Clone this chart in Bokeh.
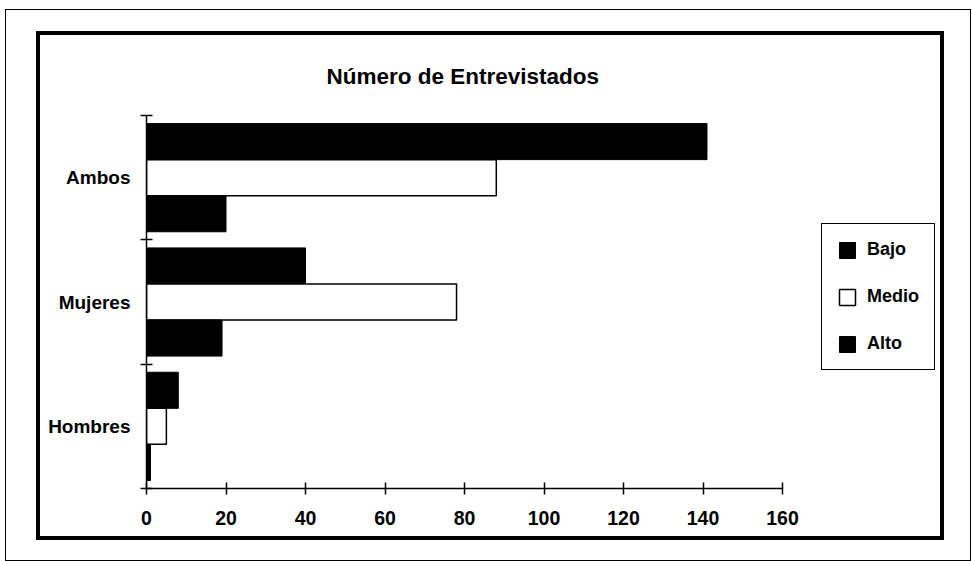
from bokeh.plotting import figure
from bokeh.layouts import column
from bokeh.models import (Range1d, LinearAxis, FixedTicker,
                          Legend, LegendItem, ColumnDataSource)
from bokeh.transform import dodge
from bokeh.embed import file_html
from bokeh.resources import INLINE

# ---- data ----
categories = ["Hombres", "Mujeres", "Ambos"]
series = ["Bajo", "Medio", "Alto"]
bajo = [8, 40, 141]
medio = [5, 78, 88]
alto = [1, 19, 20]
x_ticks = [0, 20, 40, 60, 80, 100, 120, 140, 160]
title_text = "Número de Entrevistados"

FONT = "Liberation Sans"

# layout geometry (pixels)
W, H = 900, 501
LEFT, TOP, BOTTOM = 106, 80, 48
AXIS_PX = 636                      # pixel length of the 0..160 axis
FRAME_W = W - LEFT                 # frame extends under the legend
x_end = x_ticks[-1] * FRAME_W / AXIS_PX

pos = [i + 0.5 for i in range(len(categories))]
src = ColumnDataSource(dict(pos=pos, cat=categories, Bajo=bajo, Medio=medio, Alto=alto))

p = figure(width=W, height=H,
           y_range=Range1d(0, len(categories)),
           x_range=Range1d(0, x_end),
           output_backend="svg", toolbar_location=None, y_axis_location=None,
           min_border_left=LEFT, min_border_right=0, min_border_top=TOP, min_border_bottom=BOTTOM,
           margin=(25, 30, 24, 34),
           styles={"outline": "4px solid black"})
p.outline_line_color = None
p.grid.visible = False
p.background_fill_color = "white"
p.border_fill_color = "white"

# title
p.title.text = title_text
p.title.align = "left"
p.title.offset = 180
p.title.text_font = FONT
p.title.text_font_style = "bold"
p.title.text_font_size = "22.5px"
p.title.text_color = "black"
p.title.standoff = 53

# x axis
xa = p.xaxis[0]
xa.ticker = FixedTicker(ticks=x_ticks)
xa.bounds = (x_ticks[0], x_ticks[-1])
xa.minor_tick_line_color = None
xa.major_tick_in = 6
xa.major_tick_out = 6
xa.axis_line_width = 1.5
xa.major_tick_line_width = 1.5
xa.major_label_standoff = 16
xa.major_label_text_font = FONT
xa.major_label_text_font_style = "bold"
xa.major_label_text_font_size = "19.5px"
xa.major_label_text_color = "black"

# y axis: boundary ticks (no labels)
edges = list(range(len(categories) + 1))
ya_ticks = LinearAxis(ticker=FixedTicker(ticks=edges),
                      major_label_overrides={e: "" for e in edges})
ya_ticks.major_tick_in = 6
ya_ticks.major_tick_out = 6
ya_ticks.minor_tick_line_color = None
ya_ticks.axis_line_width = 1.5
ya_ticks.major_tick_line_width = 1.5
ya_ticks.major_label_standoff = 0
p.add_layout(ya_ticks, "left")

# y axis: category labels
ya_cat = LinearAxis(ticker=FixedTicker(ticks=pos),
                    major_label_overrides={v: c for v, c in zip(pos, categories)})
ya_cat.axis_line_color = None
ya_cat.major_tick_line_color = None
ya_cat.minor_tick_line_color = None
ya_cat.major_tick_in = 0
ya_cat.major_tick_out = 0
ya_cat.major_label_standoff = 10
ya_cat.major_label_text_font = FONT
ya_cat.major_label_text_font_style = "bold"
ya_cat.major_label_text_font_size = "19px"
ya_cat.major_label_text_color = "black"
p.add_layout(ya_cat, "left")

# bars
h = 0.29
r_bajo = p.hbar(y=dodge("pos", h), left=0, right="Bajo", height=h, source=src,
                fill_color="black", line_color="black", line_width=1)
r_medio = p.hbar(y=dodge("pos", 0), left=0, right="Medio", height=h, source=src,
                 fill_color="white", line_color="black", line_width=1.5)
r_alto = p.hbar(y=dodge("pos", -h), left=0, right="Alto", height=h, source=src,
                fill_color="black", line_color="black", line_width=1)

legend = Legend(items=[LegendItem(label=series[0], renderers=[r_bajo]),
                       LegendItem(label=series[1], renderers=[r_medio]),
                       LegendItem(label=series[2], renderers=[r_alto])],
                location=(675, 118), margin=0, padding=15, spacing=26,
                glyph_width=20, glyph_height=20, label_standoff=10, label_height=20,
                label_text_font=FONT, label_text_font_style="bold", label_text_font_size="18px",
                label_text_color="black",
                border_line_color="black", border_line_width=1.2, border_line_alpha=1,
                background_fill_color="white", background_fill_alpha=1)
p.add_layout(legend, "center")

page = column(p, margin=(10, 0, 0, 6), styles={"outline": "1px solid black"})

open("out.html", "w").write(file_html(page, INLINE))
